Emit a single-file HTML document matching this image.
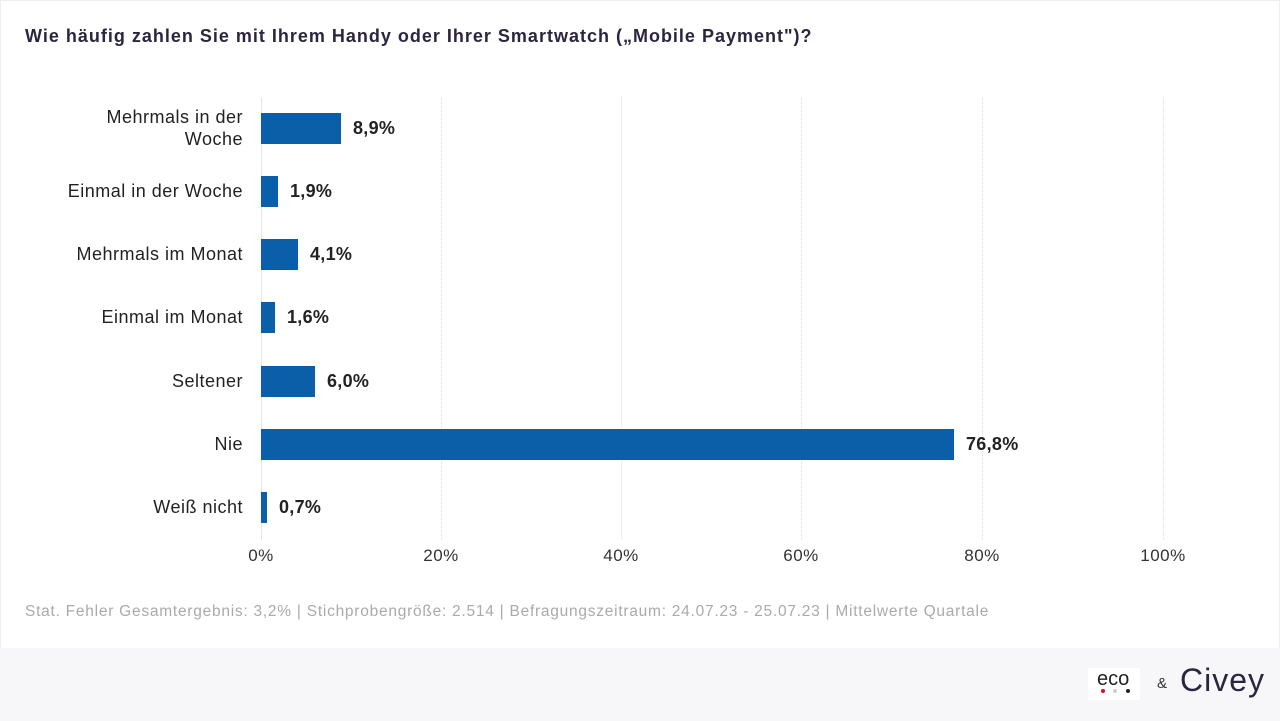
<!DOCTYPE html><html><head><style>
body{margin:0;width:1280px;height:721px;background:#fff;font-family:"Liberation Sans",sans-serif;position:relative;overflow:hidden}
.t{position:absolute;white-space:nowrap}
.lab{position:absolute;right:1037px;text-align:right;font-size:18px;color:#222;line-height:22px;letter-spacing:0.5px}
.bar{position:absolute;left:261px;height:31px;background:#0a5fa8}
.val{position:absolute;font-size:18px;font-weight:bold;color:#222;letter-spacing:0.3px}
.g{position:absolute;top:97px;height:443px;border-left:1px dotted #ddd}
.tk{position:absolute;top:546px;font-size:17px;color:#333;transform:translateX(-50%);letter-spacing:0.5px}
</style></head><body>
<div style="position:absolute;left:0;top:0;width:1278px;height:719px;border:1px solid #eee"></div>
<div class="t" style="left:25px;top:26px;font-size:18px;font-weight:bold;color:#2b2540;letter-spacing:1px">Wie häufig zahlen Sie mit Ihrem Handy oder Ihrer Smartwatch („Mobile Payment")?</div>
<div class="g" style="left:261px;border-left:1px solid #e4e4e4"></div>
<div class="g" style="left:441px"></div><div class="g" style="left:621px"></div><div class="g" style="left:801px"></div><div class="g" style="left:982px"></div><div class="g" style="left:1163px"></div>
<div class="lab" style="top:106px">Mehrmals in der<br>Woche</div>
<div class="lab" style="top:180px">Einmal in der Woche</div>
<div class="lab" style="top:243px">Mehrmals im Monat</div>
<div class="lab" style="top:306px">Einmal im Monat</div>
<div class="lab" style="top:370px">Seltener</div>
<div class="lab" style="top:433px">Nie</div>
<div class="lab" style="top:496px">Weiß nicht</div>
<div class="bar" style="top:113px;width:80px"></div><div class="val" style="left:353px;top:118px">8,9%</div>
<div class="bar" style="top:176px;width:17px"></div><div class="val" style="left:290px;top:181px">1,9%</div>
<div class="bar" style="top:239px;width:37px"></div><div class="val" style="left:310px;top:244px">4,1%</div>
<div class="bar" style="top:302px;width:14px"></div><div class="val" style="left:287px;top:307px">1,6%</div>
<div class="bar" style="top:366px;width:54px"></div><div class="val" style="left:327px;top:371px">6,0%</div>
<div class="bar" style="top:429px;width:693px"></div><div class="val" style="left:966px;top:434px">76,8%</div>
<div class="bar" style="top:492px;width:6px"></div><div class="val" style="left:279px;top:497px">0,7%</div>
<div class="tk" style="left:261px">0%</div><div class="tk" style="left:441px">20%</div><div class="tk" style="left:621px">40%</div><div class="tk" style="left:801px">60%</div><div class="tk" style="left:982px">80%</div><div class="tk" style="left:1163px">100%</div>
<div class="t" style="left:25px;top:603px;font-size:15.5px;color:#aaa;letter-spacing:0.75px">Stat. Fehler Gesamtergebnis: 3,2% | Stichprobengröße: 2.514 | Befragungszeitraum: 24.07.23 - 25.07.23 | Mittelwerte Quartale</div>
<div style="position:absolute;left:0;top:648px;width:1280px;height:73px;background:#f7f7f9"></div>
<div style="position:absolute;left:1088px;top:668px;width:52px;height:32px;background:#fff"></div>
<div class="t" style="left:1097px;top:668px;font-size:20px;color:#222">eco</div>
<div style="position:absolute;left:1101px;top:689px;width:4px;height:4px;background:#d0102a;border-radius:2px"></div>
<div style="position:absolute;left:1113px;top:689px;width:4px;height:4px;background:#ccc;border-radius:2px"></div>
<div style="position:absolute;left:1126px;top:689px;width:4px;height:4px;background:#222;border-radius:2px"></div>
<div class="t" style="left:1157px;top:675px;font-size:15px;color:#333">&amp;</div>
<div class="t" style="left:1180px;top:662px;font-size:32px;color:#2b2540;letter-spacing:1px">Civey</div>
</body></html>
